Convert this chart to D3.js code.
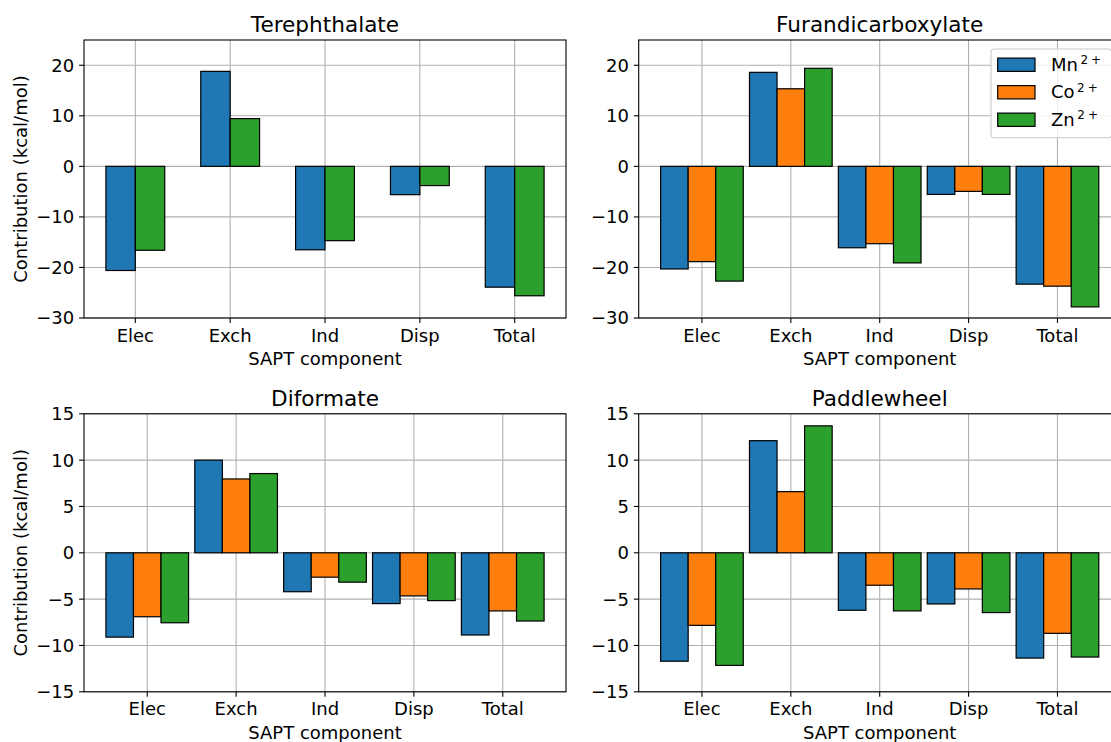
<!DOCTYPE html>
<html>
<head>
<meta charset="utf-8">
<script src="https://cdn.jsdelivr.net/npm/d3@7"></script>
<style>
  html, body { margin: 0; padding: 0; background: #fff; }
  svg { display: block; overflow: hidden; }
  text { font-family: "DejaVu Sans", sans-serif; fill: #000; }
</style>
</head>
<body>
<svg id="fig" width="1111" height="742"></svg>
<script>
// SAPT energy decomposition (kcal/mol) per linker and metal ion
const components = ["Elec", "Exch", "Ind", "Disp", "Total"];
const metals = ["Mn", "Co", "Zn"];
const metalColors = ["#1f77b4", "#ff7f0e", "#2ca02c"];

const terephthalateMn = [-20.6, 18.8, -16.5, -5.6, -23.9];
const terephthalateCo = null;
const terephthalateZn = [-16.6, 9.45, -14.7, -3.8, -25.6];

const furandicarboxylateMn = [-20.3, 18.6, -16.1, -5.55, -23.3];
const furandicarboxylateCo = [-18.85, 15.35, -15.3, -4.95, -23.7];
const furandicarboxylateZn = [-22.7, 19.4, -19.1, -5.55, -27.8];

const diformateMn = [-9.1, 10.0, -4.2, -5.48, -8.87];
const diformateCo = [-6.9, 7.97, -2.63, -4.65, -6.27];
const diformateZn = [-7.55, 8.55, -3.17, -5.16, -7.36];

const paddlewheelMn = [-11.7, 12.1, -6.2, -5.52, -11.36];
const paddlewheelCo = [-7.83, 6.6, -3.5, -3.9, -8.69];
const paddlewheelZn = [-12.15, 13.7, -6.27, -6.45, -11.25];

const yTicksTop = [-30, -20, -10, 0, 10, 20];
const yTicksBottom = [-15, -10, -5, 0, 5, 10, 15];

const svg = d3.select("#fig");
const FONT = 18, TITLE_FONT = 21.6;
const AX_W = 482, AX_H = 278;
const TICK_LEN = 4.9, TICK_PAD = 4.9;
const BAR_W = 0.31;

const panels = [
  { title: "Terephthalate", series: [terephthalateMn, terephthalateCo, terephthalateZn],
    left: 84, top: 40, yDomain: [-30, 25], yTicks: yTicksTop, ylabel: true, legend: false },
  { title: "Furandicarboxylate", series: [furandicarboxylateMn, furandicarboxylateCo, furandicarboxylateZn],
    left: 638.7, top: 40, yDomain: [-30, 25], yTicks: yTicksTop, ylabel: false, legend: true },
  { title: "Diformate", series: [diformateMn, diformateCo, diformateZn],
    left: 84, top: 413.8, yDomain: [-15, 15], yTicks: yTicksBottom, ylabel: true, legend: false },
  { title: "Paddlewheel", series: [paddlewheelMn, paddlewheelCo, paddlewheelZn],
    left: 638.7, top: 413.8, yDomain: [-15, 15], yTicks: yTicksBottom, ylabel: false, legend: false }
];

const fmt = d3.format("d");

panels.forEach((p, pi) => {
  const g = svg.append("g").attr("class", "panel-" + pi);
  const present = p.series
    .map((vals, mi) => ({ vals, mi }))
    .filter(s => s.vals !== null);
  const n = present.length;
  const offsets = present.map((s, i) => (i - (n - 1) / 2) * BAR_W);

  // x limits with 5% margins around the bars (category index units)
  const lo = d3.min(offsets) - BAR_W / 2;
  const hi = components.length - 1 + d3.max(offsets) + BAR_W / 2;
  const m = 0.05 * (hi - lo);
  const x = d3.scaleLinear().domain([lo - m, hi + m]).range([p.left, p.left + AX_W]);
  const y = d3.scaleLinear().domain(p.yDomain).range([p.top + AX_H, p.top]);
  const bottom = p.top + AX_H, right = p.left + AX_W;

  // grid
  const grid = g.append("g").attr("stroke", "#b0b0b0").attr("stroke-width", 1.1);
  components.forEach((c, i) => {
    grid.append("line").attr("x1", x(i)).attr("x2", x(i)).attr("y1", p.top).attr("y2", bottom);
  });
  p.yTicks.forEach(t => {
    grid.append("line").attr("x1", p.left).attr("x2", right).attr("y1", y(t)).attr("y2", y(t));
  });

  // bars
  present.forEach((s, i) => {
    g.append("g").selectAll("rect").data(s.vals).join("rect")
      .attr("x", (d, ci) => x(ci + offsets[i] - BAR_W / 2))
      .attr("width", (d, ci) => x(ci + offsets[i] + BAR_W / 2) - x(ci + offsets[i] - BAR_W / 2))
      .attr("y", d => y(Math.max(0, d)))
      .attr("height", d => Math.abs(y(d) - y(0)))
      .attr("fill", metalColors[s.mi])
      .attr("stroke", "#000")
      .attr("stroke-width", 1.2);
  });

  // spines
  g.append("rect").attr("x", p.left).attr("y", p.top).attr("width", AX_W).attr("height", AX_H)
    .attr("fill", "none").attr("stroke", "#000").attr("stroke-width", 1.1);

  // y ticks
  p.yTicks.forEach(t => {
    g.append("line").attr("x1", p.left - TICK_LEN).attr("x2", p.left)
      .attr("y1", y(t)).attr("y2", y(t)).attr("stroke", "#000").attr("stroke-width", 1.1);
    g.append("text").attr("x", p.left - TICK_LEN - TICK_PAD).attr("y", y(t))
      .attr("dy", "0.36em").attr("text-anchor", "end").attr("font-size", FONT)
      .text(fmt(t));
  });

  // x ticks
  components.forEach((c, i) => {
    g.append("line").attr("x1", x(i)).attr("x2", x(i))
      .attr("y1", bottom).attr("y2", bottom + TICK_LEN).attr("stroke", "#000").attr("stroke-width", 1.1);
    g.append("text").attr("x", x(i)).attr("y", bottom + TICK_LEN + TICK_PAD + 13.7)
      .attr("text-anchor", "middle").attr("font-size", FONT).text(c);
  });

  // axis labels and title
  g.append("text").attr("x", (p.left + right) / 2).attr("y", bottom + 47)
    .attr("text-anchor", "middle").attr("font-size", FONT).text("SAPT component");
  if (p.ylabel) {
    g.append("text")
      .attr("transform", `translate(26.5,${(p.top + bottom) / 2}) rotate(-90)`)
      .attr("text-anchor", "middle").attr("font-size", FONT).text("Contribution (kcal/mol)");
  }
  g.append("text").attr("x", (p.left + right) / 2).attr("y", p.top - 8.3)
    .attr("text-anchor", "middle").attr("font-size", TITLE_FONT).text(p.title);

  // legend (upper right)
  if (p.legend) {
    const lw = 120.7, lh = 88.7;
    const lx = right - 9 - lw, ly = p.top + 9;
    const lg = g.append("g");
    lg.append("rect").attr("x", lx).attr("y", ly).attr("width", lw).attr("height", lh)
      .attr("rx", 3.5).attr("fill", "#fff").attr("fill-opacity", 0.8)
      .attr("stroke", "#cccccc").attr("stroke-width", 1.1);
    metals.forEach((mname, mi) => {
      const cy = ly + 15.7 + mi * 27.5;
      lg.append("rect").attr("x", lx + 6.7).attr("y", cy - 6.6).attr("width", 37.3).attr("height", 13.3)
        .attr("fill", metalColors[mi]).attr("stroke", "#000").attr("stroke-width", 1.2);
      const t = lg.append("text").attr("x", lx + 60).attr("y", cy + 5.8).attr("font-size", FONT);
      t.append("tspan").text(mname);
      t.append("tspan").attr("font-size", 12).attr("dx", 2.5).attr("dy", -6.5).text("2");
      t.append("tspan").attr("font-size", 12).attr("dx", 3).text("+");
    });
  }
});
</script>
</body>
</html>
